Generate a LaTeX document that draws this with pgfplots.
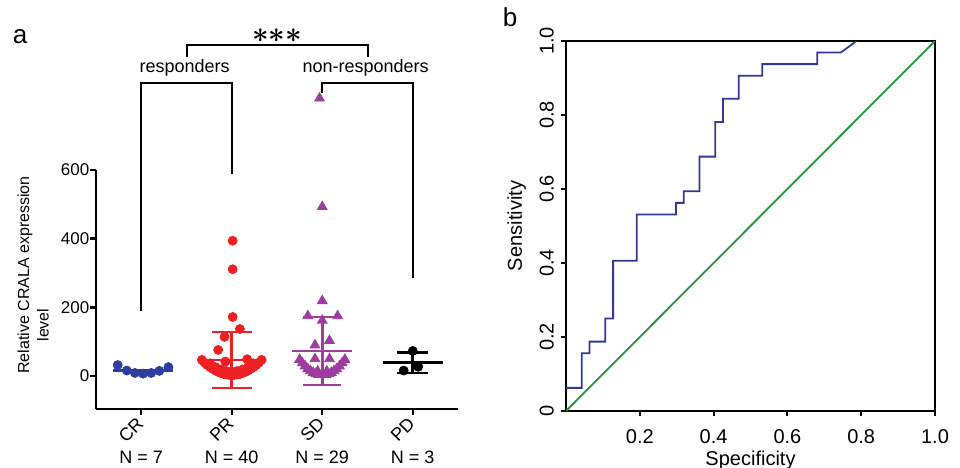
\documentclass[border=0pt]{standalone}
\usepackage{amsmath}
\usepackage{fontspec}
\setmainfont{Liberation Sans}
\usepackage{pgfplots}
\pgfplotsset{compat=1.18}

\definecolor{crblue}{RGB}{45,62,160}
\definecolor{prred}{RGB}{237,32,36}
\definecolor{sdpurple}{RGB}{158,60,160}
\definecolor{rocblue}{RGB}{48,58,150}
\definecolor{rocgreen}{RGB}{30,150,60}

\begin{document}
\begin{tikzpicture}
\path[use as bounding box] (0,0) rectangle (480pt,233.5pt);

% panel a: scatter with mean and SD
\begin{axis}[
  at={(48pt,29pt)}, anchor=south west,
  scale only axis, width=181pt, height=119.5pt,
  xmin=0.5, xmax=4.5, ymin=-96, ymax=600,
  axis x line=bottom, axis y line=left,
  axis line style={-, line width=1.2pt},
  xtick={1,2,3,4}, xticklabels={CR,PR,SD,PD},
  ytick={0,200,400,600},
  tick align=outside, major tick length=2.8pt,
  tick style={line width=1.2pt, black},
  x tick label style={rotate=45, anchor=north east, xshift=1pt, yshift=5pt,
                      font=\fontsize{9}{10}\selectfont},
  y tick label style={xshift=3pt, font=\fontsize{8.5}{10}\selectfont},
  clip=false,
  /pgf/number format/assume math mode=true,
]
% CR
\addplot[only marks, mark=*, mark size=2.25pt, crblue] coordinates
  {(0.74,32) (0.84,16) (0.93,9) (1.02,7) (1.11,9) (1.20,15) (1.30,26)};
\addplot[crblue, line width=1.3pt] coordinates {(0.69,16) (1.35,16)};
% PR
\addplot[only marks, mark=*, mark size=2.25pt, prred] coordinates
  {(2.01,394) (2.01,311) (2.01,172) (2.09,137) (1.92,114) (1.85,76) (1.93,42) (2.17,49)
   (1.67,47) (2.33,47) (1.70,39) (2.30,39) (1.73,32) (2.27,32) (1.76,26) (2.24,26)
   (1.79,21) (2.21,21) (1.82,16) (2.18,16) (1.85,12) (2.15,12) (1.88,9) (2.12,9)
   (1.91,6) (2.09,6) (1.94,4.5) (2.06,4.5) (1.97,3.4) (2.03,3.4) (2.00,3)
   (2.00,13) (1.94,14.5) (2.06,14.5) (1.88,19) (2.12,19) (1.82,26) (2.18,26)
   (1.76,37) (2.24,37)};
\addplot[prred, line width=1.3pt] coordinates {(1.63,47) (2.37,47)};
\addplot[prred, line width=1.3pt] coordinates {(2,-35) (2,128)};
\addplot[prred, line width=1.3pt] coordinates {(1.78,128) (2.22,128)};
\addplot[prred, line width=1.3pt] coordinates {(1.78,-35) (2.22,-35)};
% SD
\addplot[only marks, mark=triangle*, mark size=2.8pt, sdpurple] coordinates
  {(2.97,809) (3.00,493) (3.00,219) (2.84,175) (3.17,175) (3.00,162) (3.08,103) (2.92,90)
   (2.92,50) (3.08,50)
   (2.75,48) (3.25,48) (2.78,38) (3.22,38) (2.81,29) (3.19,29) (2.84,21) (3.16,21)
   (2.87,15) (3.13,15) (2.90,10) (3.10,10) (2.93,6.5) (3.07,6.5) (2.96,4.2) (3.04,4.2)
   (3.00,3) (2.95,14) (3.05,14)};
\addplot[sdpurple, line width=1.3pt] coordinates {(2.67,73) (3.33,73)};
\addplot[sdpurple, line width=1.3pt] coordinates {(3,-26) (3,172)};
\addplot[sdpurple, line width=1.3pt] coordinates {(2.79,172) (3.21,172)};
\addplot[sdpurple, line width=1.3pt] coordinates {(2.79,-26) (3.21,-26)};
% PD
\addplot[only marks, mark=*, mark size=2.25pt, black] coordinates
  {(4.00,73) (3.90,16) (4.06,27)};
\addplot[black, line width=1.3pt] coordinates {(3.67,39) (4.33,39)};
\addplot[black, line width=1.3pt] coordinates {(4,9) (4,69)};
\addplot[black, line width=1.3pt] coordinates {(3.83,69) (4.17,69)};
\addplot[black, line width=1.3pt] coordinates {(3.83,9) (4.17,9)};
% brackets
\addplot[black, line width=1pt] coordinates {(1,189) (1,853) (2,853) (2,588)};
\addplot[black, line width=1pt] coordinates {(3,825) (3,853) (4,853) (4,285)};
\addplot[black, line width=1pt] coordinates {(1.5,929) (1.5,964) (3.5,964) (3.5,929)};
\node[font=\fontsize{9}{10}\selectfont] at (axis cs:1.48,897) {responders};
\node[font=\fontsize{9}{10}\selectfont] at (axis cs:3.48,897) {non-responders};
\node[font=\fontsize{14}{15}\selectfont] at (axis cs:2.5,990) {$\boldsymbol{{\ast}{\ast}{\ast}}$};
\node[font=\fontsize{9}{10}\selectfont, yshift=-24pt] at (axis cs:1,-96) {N = 7};
\node[font=\fontsize{9}{10}\selectfont, yshift=-24pt] at (axis cs:2,-96) {N = 40};
\node[font=\fontsize{9}{10}\selectfont, yshift=-24pt] at (axis cs:3,-96) {N = 29};
\node[font=\fontsize{9}{10}\selectfont, yshift=-24pt] at (axis cs:4,-96) {N = 3};
\end{axis}

% y label of panel a, two lines as in the figure
\node[rotate=90, font=\fontsize{8}{9}\selectfont] at (12.5pt,96pt) {Relative CRALA expression};
\node[rotate=90, font=\fontsize{8}{9}\selectfont] at (21.5pt,71pt) {level};

% panel b: ROC curve
\begin{axis}[
  at={(283pt,28pt)}, anchor=south west,
  scale only axis, width=184.5pt, height=185pt,
  xmin=0, xmax=1, ymin=0, ymax=1,
  axis line style={line width=1pt},
  xtick={0.2,0.4,0.6,0.8,1.0}, xticklabels={0.2,0.4,0.6,0.8,1.0},
  ytick={0,0.2,0.4,0.6,0.8,1.0}, yticklabels={0,0.2,0.4,0.6,0.8,1.0},
  xtick pos=left, ytick pos=left,
  tick align=outside, major tick length=2.5pt,
  tick style={line width=1pt, black},
  tick label style={font=\fontsize{10}{12}\selectfont},
  x tick label style={yshift=-3pt},
  y tick label style={rotate=90, anchor=south},
  xlabel={Specificity}, ylabel={Sensitivity},
  xlabel style={yshift=3pt},
  label style={font=\fontsize{10}{12}\selectfont},
]
\addplot[rocgreen, line width=0.9pt] coordinates {(0,0) (1,1)};
\addplot[rocblue, line width=0.9pt] coordinates
  {(0,0.0625) (0.0426,0.0625) (0.0426,0.15625) (0.0638,0.15625) (0.0638,0.1875)
   (0.1064,0.1875) (0.1064,0.25) (0.1277,0.25) (0.1277,0.40625) (0.1915,0.40625)
   (0.1915,0.53125) (0.2979,0.53125) (0.2979,0.5625) (0.3191,0.5625) (0.3191,0.59375)
   (0.3617,0.59375) (0.3617,0.6875) (0.4043,0.6875) (0.4043,0.78125) (0.4255,0.78125)
   (0.4255,0.84375) (0.4681,0.84375) (0.4681,0.90625) (0.5319,0.90625) (0.5319,0.9375)
   (0.6809,0.9375) (0.6809,0.96875) (0.7447,0.96875) (0.7872,1)};
\end{axis}

\node[font=\fontsize{13}{14}\selectfont] at (10pt,215pt) {a};
\node[font=\fontsize{13}{14}\selectfont] at (255pt,225pt) {b};
\end{tikzpicture}
\end{document}
